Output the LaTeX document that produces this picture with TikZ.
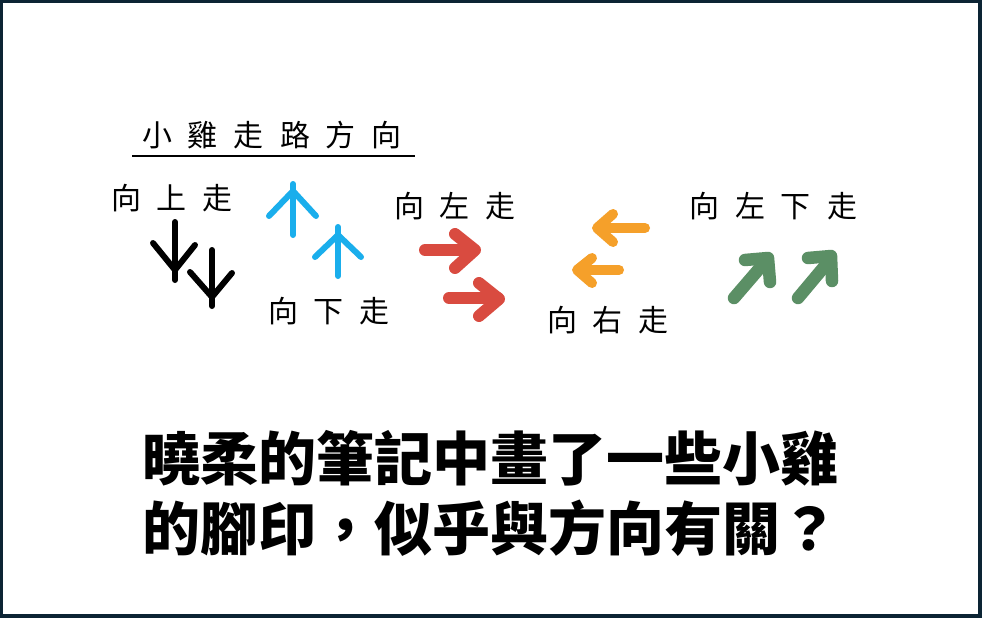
\documentclass[tikz,border=0pt]{standalone}
\usepackage{fontspec}
\newfontfamily\cjk{Noto Sans CJK TC}
\definecolor{frame}{HTML}{0C2434}
\definecolor{footblue}{HTML}{1AAEEC}
\definecolor{arrred}{HTML}{D94B40}
\definecolor{arrorange}{HTML}{F5A02A}
\definecolor{arrgreen}{HTML}{5B8F65}
\tikzset{
  hw/.style={font=\cjk\fontsize{30}{32}\selectfont, inner sep=0pt, text=black},
  big/.style={font=\cjk\bfseries\fontsize{58}{64}\selectfont, inner sep=0pt, text=black},
  foot/.style={line width=6pt, line cap=round, line join=round},
  redarr/.style={arrred, line width=12pt, line cap=round, line join=round},
  orarr/.style={arrorange, line width=10pt, line cap=round, line join=round},
  grarr/.style={arrgreen, line width=12.5pt, line cap=round, line join=round},
}
\newcommand{\gp}{\hspace{16pt}}
\begin{document}
\begin{tikzpicture}[x=1pt,y=-1pt]
\useasboundingbox (0,0) rectangle (982,618);
\fill[frame] (0,0) rectangle (982,618);
\fill[white] (3,3) rectangle (978,614);

% title
\node[hw] (title) at (272,135) {小\gp 雞\gp 走\gp 路\gp 方\gp 向};
\draw[line width=2pt] (132,156) -- (415,156);

% labels
\node[hw] (up) at (172,198) {向\gp 上\gp 走};
\node[hw] (down) at (329,311) {向\gp 下\gp 走};
\node[hw] (left) at (455,206) {向\gp 左\gp 走};
\node[hw] (right) at (608,320) {向\gp 右\gp 走};
\node[hw] (leftdown) at (773,206) {向\gp 左\gp 下\gp 走};

% black feet (pointing down)
\draw[foot] (175,222) -- (175,280);
\draw[foot] (153,243) -- (175,270) -- (195,245);
\draw[foot] (212,250) -- (212,306);
\draw[foot] (190,272) -- (212,297) -- (232,273);

% blue feet (pointing up)
\draw[foot,footblue] (293,184) -- (293,235);
\draw[foot,footblue] (269,216) -- (293,191) -- (316,216);
\draw[foot,footblue] (338,227) -- (338,276);
\draw[foot,footblue] (315,257) -- (338,235) -- (361,257);

% red arrows (right)
\draw[redarr] (425,250) -- (474,250);
\draw[redarr] (455,234) -- (475,250) -- (455,268);
\draw[redarr] (449,298) -- (498,298);
\draw[redarr] (479,283) -- (499,299) -- (479,316);

% orange arrows (left)
\draw[orarr] (645,228) -- (598,228);
\draw[orarr] (613,214) -- (597,228) -- (613,242);
\draw[orarr] (619,270) -- (578,270);
\draw[orarr] (592,258) -- (577,270) -- (592,283);

% green arrows (up-right)
\draw[grarr] (734,298) -- (765,262);
\draw[grarr] (745,260) -- (768,258) -- (770,282);
\draw[grarr] (798,298) -- (829,261);
\draw[grarr] (808,258) -- (831,256) -- (832,281);

% main text
\node[big] (line1) at (490,458) {曉柔的筆記中畫了一些小雞};
\node[big] (line2) at (490,528) {的腳印，似乎與方向有關？};
\end{tikzpicture}
\end{document}
